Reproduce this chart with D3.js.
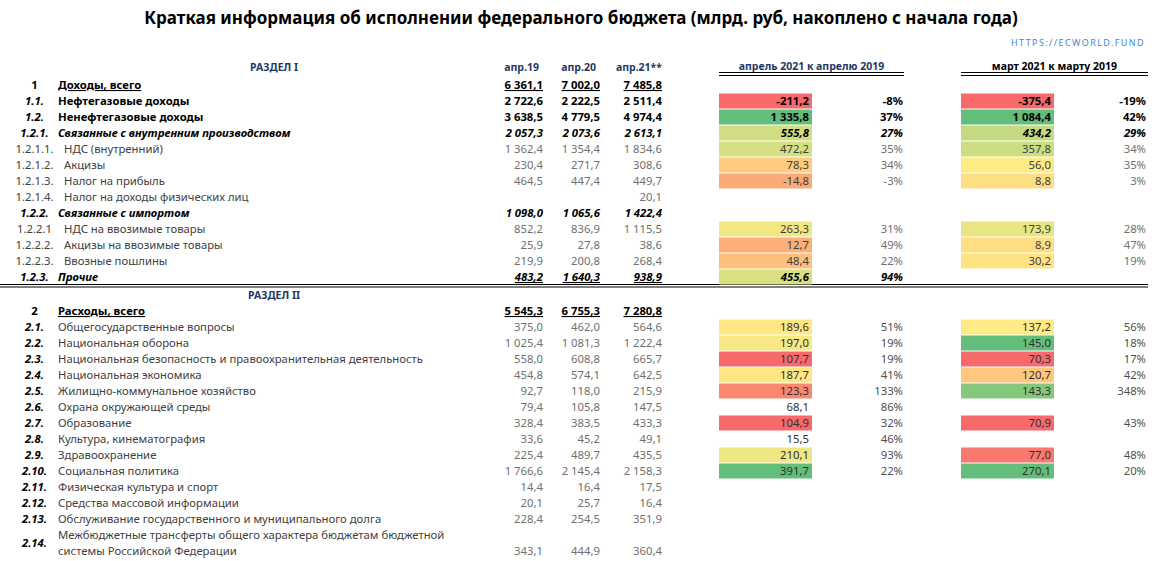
<!DOCTYPE html>
<html><head><meta charset="utf-8">
<script src="https://cdn.jsdelivr.net/npm/d3@7"></script>
<style>
body{margin:0;background:#fff}
svg{display:block}
text{font-family:"Noto Sans",sans-serif;font-size:11.3px}
</style>
</head><body><svg id="c" width="1162" height="561"></svg>
<script>
// ---------- DATA ----------
const codes = ["1","1.1.","1.2.","1.2.1.","1.2.1.1.","1.2.1.2.","1.2.1.3.","1.2.1.4.","1.2.2.","1.2.2.1","1.2.2.2.","1.2.2.3.","1.2.3.",
  "2","2.1.","2.2.","2.3.","2.4.","2.5.","2.6.","2.7.","2.8.","2.9.","2.10.","2.11.","2.12.","2.13.","2.14."];
const labels = ["Доходы, всего","Нефтегазовые доходы","Ненефтегазовые доходы","Связанные с внутренним производством",
  "НДС (внутренний)","Акцизы","Налог на прибыль","Налог на доходы физических лиц","Связанные с импортом",
  "НДС на ввозимые товары","Акцизы на ввозимые товары","Ввозные пошлины","Прочие",
  "Расходы, всего","Общегосударственные вопросы","Национальная оборона",
  "Национальная безопасность и правоохранительная деятельность","Национальная экономика",
  "Жилищно-коммунальное хозяйство","Охрана окружающей среды","Образование","Культура, кинематография",
  "Здравоохранение","Социальная политика","Физическая культура и спорт","Средства массовой информации",
  "Обслуживание государственного и муниципального долга",
  "Межбюджетные трансферты общего характера бюджетам бюджетной|системы Российской Федерации"];
// hierarchy kind of each row
const kinds = ["total","main","main","group","item","item","item","item","group","item","item","item","group",
  "total","exp","exp","exp","exp","exp","exp","exp","exp","exp","exp","exp","exp","exp","exp"];
const periods = ["апр.19","апр.20","апр.21**"];
const apr19 = [6361.1,2722.6,3638.5,2057.3,1362.4,230.4,464.5,null,1098.0,852.2,25.9,219.9,483.2,
  5545.3,375.0,1025.4,558.0,454.8,92.7,79.4,328.4,33.6,225.4,1766.6,14.4,20.1,228.4,343.1];
const apr20 = [7002.0,2222.5,4779.5,2073.6,1354.4,271.7,447.4,null,1065.6,836.9,27.8,200.8,1640.3,
  6755.3,462.0,1081.3,608.8,574.1,118.0,105.8,383.5,45.2,489.7,2145.4,16.4,25.7,254.5,444.9];
const apr21 = [7485.8,2511.4,4974.4,2613.1,1834.6,308.6,449.7,20.1,1422.4,1115.5,38.6,268.4,938.9,
  7280.8,564.6,1222.4,665.7,642.5,215.9,147.5,433.3,49.1,435.5,2158.3,17.5,16.4,351.9,360.4];
const compareTitles = ["апрель 2021 к апрелю 2019","март 2021 к марту 2019"];
const aprDelta = [null,-211.2,1335.8,555.8,472.2,78.3,-14.8,null,null,263.3,12.7,48.4,455.6,
  null,189.6,197.0,107.7,187.7,123.3,68.1,104.9,15.5,210.1,391.7,null,null,null,null];
const aprPct = [null,-8,37,27,35,34,-3,null,null,31,49,22,94,
  null,51,19,19,41,133,86,32,46,93,22,null,null,null,null];
const marDelta = [null,-375.4,1084.4,434.2,357.8,56.0,8.8,null,null,173.9,8.9,30.2,null,
  null,137.2,145.0,70.3,120.7,143.3,null,70.9,null,77.0,270.1,null,null,null,null];
const marPct = [null,-19,42,29,34,35,3,null,null,28,47,19,null,
  null,56,18,17,42,348,null,43,null,48,20,null,null,null,null];
// position on the red-yellow-green colour scale (0 = red, 0.5 = yellow, 1 = green)
const aprScore = [null,0,1,0.645,0.63,0.38,0.245,null,null,0.545,0.27,0.33,0.625,
  null,0.49,0.52,0,0.49,0.12,null,0,null,0.55,1,null,null,null,null];
const marScore = [null,0,1,0.69,0.66,0.5,0.45,null,null,0.57,0.45,0.47,null,
  null,0.5,1,0,0.36,0.89,null,0,null,0.06,1,null,null,null,null];

// ---------- DRAW ----------
const svg = d3.select("#c");
const loc = d3.formatLocale({decimal:",",thousands:"\u00a0",grouping:[3],currency:["",""],minus:"-"});
const fmt = loc.format(",.1f");
const fmtPct = v => loc.format("d")(v) + "%";
const color = d3.scaleLinear().domain([0,0.5,1]).range(["#F8696B","#FFEB84","#63BE7B"]);

const n = codes.length;
const y1 = d3.scaleLinear().domain([0,12]).range([85,277]);
const y2 = d3.scaleLinear().domain([13,26]).range([311,519]);
const rowY = i => i <= 12 ? y1(i) : (i === 27 ? y2(28) : y2(i));

const colX = {code:34.5, label:58, labelItem:64, v:[543,600,662], aDelta:809, aPct:903, mDelta:1051, mPct:1146,
  aCell:[719,812], mCell:[961,1054]};

// title
svg.append("text").attr("x",581).attr("y",24).attr("text-anchor","middle")
  .style("font-size","17px").style("font-weight","bold").attr("fill","#000")
  .text("Краткая информация об исполнении федерального бюджета (млрд. руб, накоплено с начала года)");
svg.append("text").attr("x",1145).attr("y",46).attr("text-anchor","end")
  .style("font-size","9px").style("letter-spacing","1.4px").attr("fill","#3F86D0")
  .text("HTTPS://ECWORLD.FUND");

// header row
const hdrColor = "#1F3864";
svg.append("text").attr("x",274).attr("y",67).attr("dy","0.35em").attr("text-anchor","middle")
  .style("font-weight","bold").style("font-size","10.5px").attr("fill",hdrColor).text("РАЗДЕЛ I");
svg.append("text").attr("x",274).attr("y",295).attr("dy","0.35em").attr("text-anchor","middle")
  .style("font-weight","bold").style("font-size","10.5px").attr("fill",hdrColor).text("РАЗДЕЛ II");
const hdrRight = [539,596,662];
svg.selectAll("text.per").data(periods).join("text").attr("class","per")
  .attr("x",(d,i)=>hdrRight[i]).attr("y",67).attr("dy","0.35em").attr("text-anchor","end")
  .style("font-weight","bold").style("font-size","10.5px").attr("fill",hdrColor).text(d=>d);

const cmp = [{t:compareTitles[0],x0:719,x1:904,c:hdrColor},{t:compareTitles[1],x0:961,x1:1148,c:"#000"}];
cmp.forEach(c=>{
  svg.append("text").attr("x",(c.x0+c.x1)/2).attr("y",66).attr("dy","0.35em").attr("text-anchor","middle")
    .style("font-weight","bold").style("font-size","10.5px").attr("fill",c.c).text(c.t);
  [72.5,75.5].forEach(yy=>svg.append("line").attr("x1",c.x0).attr("x2",c.x1).attr("y1",yy).attr("y2",yy)
    .attr("stroke","#000").attr("stroke-width",1));
});

// section separator double line
[284.5,287].forEach(yy=>svg.append("line").attr("x1",0).attr("x2",1148).attr("y1",yy).attr("y2",yy)
  .attr("stroke","#000").attr("stroke-width",1.1));

// styles per kind
const S = {
  total:{code:{w:"bold",i:"normal",c:"#000"},label:{w:"bold",i:"normal",c:"#000",u:true},val:{w:"bold",i:"normal",c:"#000",u:true},
         dl:{w:"bold",i:"normal",c:"#000"},pc:{w:"bold",i:"normal",c:"#000"}},
  main:{code:{w:"bold",i:"italic",c:"#000"},label:{w:"bold",i:"normal",c:"#000"},val:{w:"bold",i:"normal",c:"#000"},
         dl:{w:"bold",i:"normal",c:"#000"},pc:{w:"bold",i:"normal",c:"#000"}},
  group:{code:{w:"bold",i:"italic",c:"#000"},label:{w:"bold",i:"italic",c:"#000"},val:{w:"bold",i:"italic",c:"#000"},
         dl:{w:"bold",i:"italic",c:"#000"},pc:{w:"bold",i:"italic",c:"#000"}},
  item:{code:{w:"normal",i:"normal",c:"#404040"},label:{w:"normal",i:"normal",c:"#404040"},val:{w:"normal",i:"normal",c:"#6f6f6f"},
         dl:{w:"normal",i:"normal",c:"#404040"},pc:{w:"normal",i:"normal",c:"#6f6f6f"}},
  exp:{code:{w:"bold",i:"italic",c:"#000"},label:{w:"normal",i:"normal",c:"#404040"},val:{w:"normal",i:"normal",c:"#6f6f6f"},
         dl:{w:"normal",i:"normal",c:"#303030"},pc:{w:"normal",i:"normal",c:"#505050"}}
};
function styl(sel, st){
  sel.style("font-weight",st.w).style("font-style",st.i).attr("fill",st.c)
     .style("text-decoration", st.u ? "underline" : null);
  return sel;
}

const rows = d3.range(n);
const g = svg.append("g");

// coloured cells
function cells(deltas, scores, xr, cls){
  g.selectAll("rect."+cls).data(rows.filter(i=>deltas[i]!==null && scores[i]!==null)).join("rect").attr("class",cls)
    .attr("x",xr[0]).attr("width",xr[1]-xr[0]).attr("y",i=>rowY(i)-7.5).attr("height",15)
    .attr("fill",i=>color(scores[i]));
}
cells(aprDelta,aprScore,colX.aCell,"ac");
cells(marDelta,marScore,colX.mCell,"mc");

rows.forEach(i=>{
  const st = S[kinds[i]];
  const y = rowY(i);
  // code
  const cy = i===27 ? y-8 : y;
  styl(g.append("text").attr("x",colX.code).attr("y",cy).attr("dy","0.35em").attr("text-anchor","middle").text(codes[i]), st.code);
  // label (may be two lines)
  const lx = kinds[i]==="item" ? colX.labelItem : colX.label;
  const parts = labels[i].split("|");
  parts.forEach((p,k)=>{
    styl(g.append("text").attr("x",lx).attr("y",y-(parts.length-1-k)*16).attr("dy","0.35em").text(p), st.label);
  });
  // values
  [apr19,apr20,apr21].forEach((arr,k)=>{
    if(arr[i]===null) return;
    const t = g.append("text").attr("x",colX.v[k]).attr("y",y).attr("dy","0.35em").attr("text-anchor","end").text(fmt(arr[i]));
    styl(t, st.val);
    if(i===12) t.style("text-decoration","underline");
  });
  if(aprDelta[i]!==null){
    styl(g.append("text").attr("x",colX.aDelta).attr("y",y).attr("dy","0.35em").attr("text-anchor","end").text(fmt(aprDelta[i])), st.dl);
    styl(g.append("text").attr("x",colX.aPct).attr("y",y).attr("dy","0.35em").attr("text-anchor","end").text(fmtPct(aprPct[i])), st.pc);
  }
  if(marDelta[i]!==null){
    styl(g.append("text").attr("x",colX.mDelta).attr("y",y).attr("dy","0.35em").attr("text-anchor","end").text(fmt(marDelta[i])), st.dl);
    styl(g.append("text").attr("x",colX.mPct).attr("y",y).attr("dy","0.35em").attr("text-anchor","end").text(fmtPct(marPct[i])), st.pc);
  }
});
</script>
</body></html>
